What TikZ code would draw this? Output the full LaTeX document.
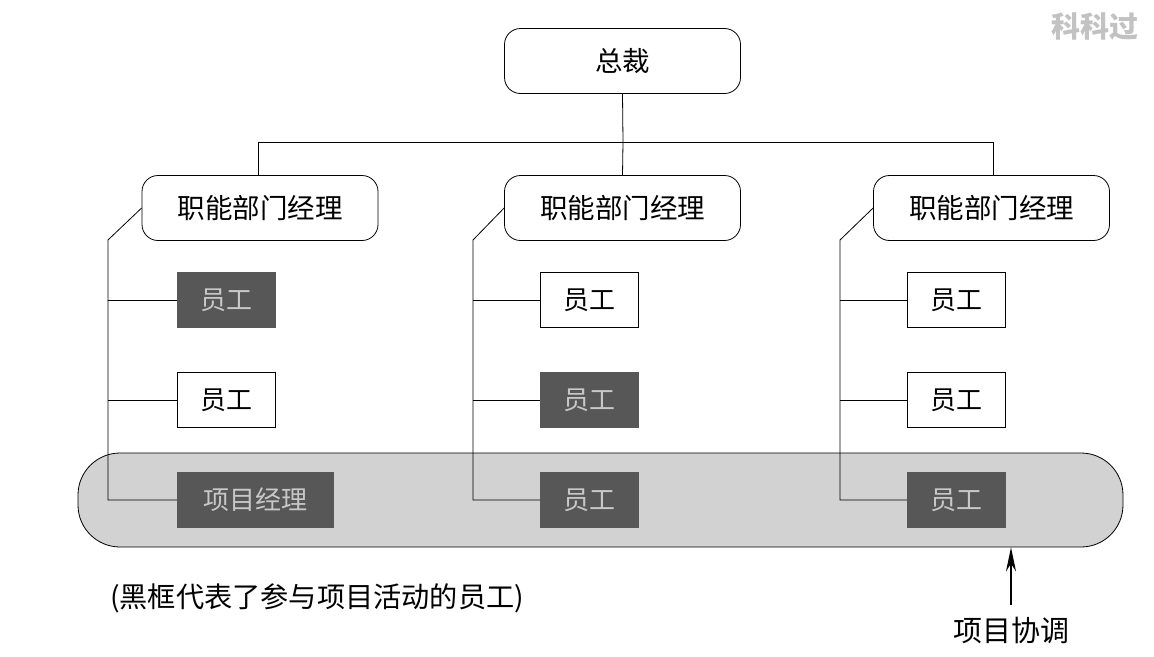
\documentclass[tikz,border=0pt]{standalone}
\usepackage{fontspec}
\setmainfont{Noto Sans CJK SC}
\usetikzlibrary{arrows.meta}
\definecolor{bandgray}{HTML}{D2D2D2}
\definecolor{darkbox}{HTML}{575757}
\definecolor{darktext}{HTML}{C8C8C8}
\definecolor{markgray}{HTML}{C2C2C2}
\begin{document}
\begin{tikzpicture}[x=1pt,y=-1pt,
  every node/.style={font=\fontsize{26}{30}\selectfont, inner sep=0pt},
  roundbox/.style={draw, line width=0.8pt, rounded corners=16pt, fill=white, minimum width=236pt, minimum height=65pt, font=\fontsize{27.5}{30}\selectfont},
  plainbox/.style={draw, line width=0.8pt, fill=white, minimum width=98pt, minimum height=55pt},
  darkbox/.style={draw=darkbox, fill=darkbox, text=darktext, minimum width=98pt, minimum height=55pt},
  link/.style={line width=0.8pt}]
\useasboundingbox (0,0) rectangle (1154,656);
\fill[white] (0,0) rectangle (1154,656);

% project band behind the bottom row
\node[draw, line width=0.8pt, fill=bandgray, rounded corners=42pt, minimum width=1045pt, minimum height=94pt] (band) at (600.5,500) {};

% top of the hierarchy
\node[roundbox] (ceo) at (622.5,61) {总裁};
\node[roundbox] (m1) at (260,208) {职能部门经理};
\node[roundbox] (m2) at (622.5,208) {职能部门经理};
\node[roundbox] (m3) at (991.5,208) {职能部门经理};

% bus between president and managers
\coordinate (busL) at (258,142);
\coordinate (busM) at (623,142);
\coordinate (busR) at (993,142);
\draw[link] (ceo.south) -- (busM) -- (m2.north);
\draw[link] (busL) -- (busR);
\draw[link] (busL) -- (busL |- m1.north);
\draw[link] (busR) -- (busR |- m3.north);

% staff, column 1
\node[darkbox] (s11) at (226,300) {员工};
\node[plainbox] (s12) at (226,400) {员工};
\node[darkbox, minimum width=156pt] (s13) at (255,500) {项目经理};
% staff, column 2
\node[plainbox] (s21) at (589,300) {员工};
\node[darkbox] (s22) at (589,400) {员工};
\node[darkbox] (s23) at (589,500) {员工};
% staff, column 3
\node[plainbox] (s31) at (956,300) {员工};
\node[plainbox] (s32) at (956,400) {员工};
\node[darkbox] (s33) at (956,500) {员工};

% reporting spines
\coordinate (k1) at (108,240);
\coordinate (k2) at (473,240);
\coordinate (k3) at (840,240);
\draw[link] (m1.west) -- (k1) -- (k1 |- s13.west) -- (s13.west);
\draw[link] (k1 |- s11.west) -- (s11.west);
\draw[link] (k1 |- s12.west) -- (s12.west);
\draw[link] (m2.west) -- (k2) -- (k2 |- s23.west) -- (s23.west);
\draw[link] (k2 |- s21.west) -- (s21.west);
\draw[link] (k2 |- s22.west) -- (s22.west);
\draw[link] (m3.west) -- (k3) -- (k3 |- s33.west) -- (s33.west);
\draw[link] (k3 |- s31.west) -- (s31.west);
\draw[link] (k3 |- s32.west) -- (s32.west);

% notes
\node[anchor=west, font=\fontsize{28.2}{32}\selectfont] (note) at (110,598) {(黑框代表了参与项目活动的员工)};
\node[font=\fontsize{29}{32}\selectfont] (coord) at (1011,630) {项目协调};
\draw[line width=1.6pt, -{Stealth[length=24pt, width=10pt]}] (coord.north |- 0,605) -- (coord.north |- band.south);

\node[text=markgray, font=\fontsize{29}{32}\selectfont\bfseries] (mark) at (1095,27) {科科过};
\end{tikzpicture}
\end{document}
